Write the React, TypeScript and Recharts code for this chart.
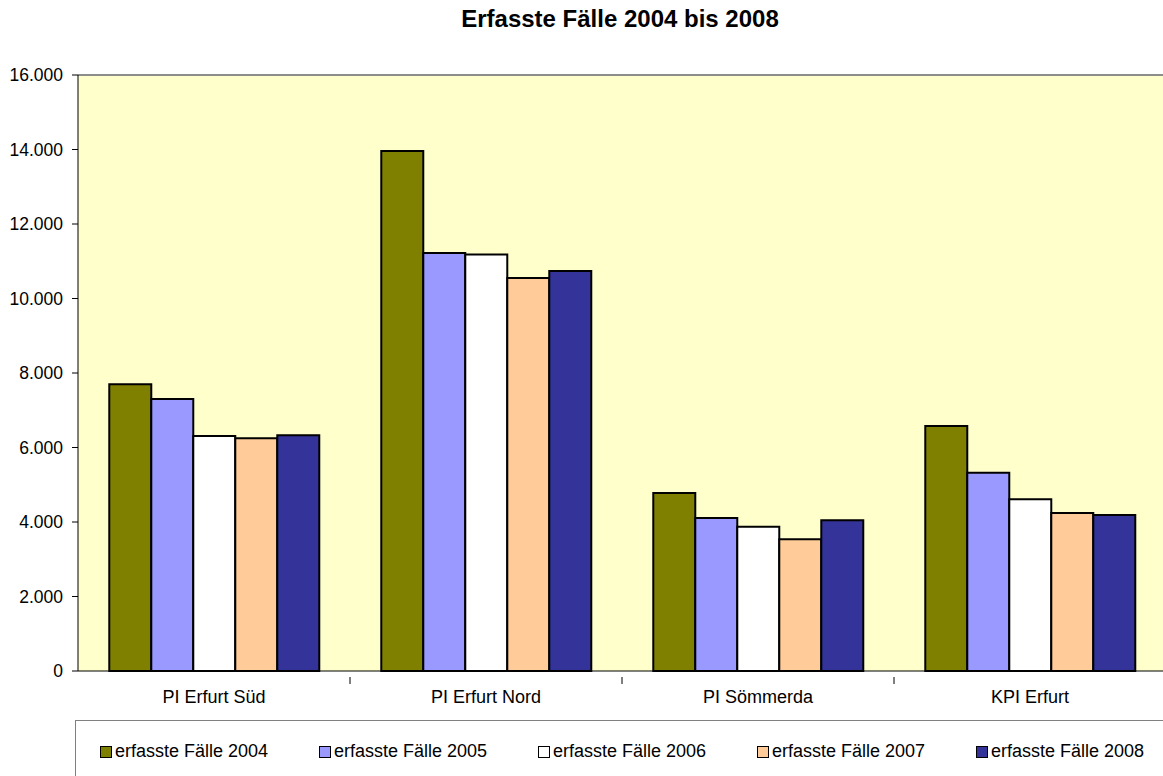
import React from 'react';
import { BarChart, Bar, XAxis, YAxis, CartesianGrid, ReferenceLine } from 'recharts';

const CATEGORIES = ['PI Erfurt Süd', 'PI Erfurt Nord', 'PI Sömmerda', 'KPI Erfurt'];
const FAELLE_2004 = [7700, 13960, 4780, 6580];
const FAELLE_2005 = [7300, 11220, 4110, 5320];
const FAELLE_2006 = [6310, 11180, 3870, 4610];
const FAELLE_2007 = [6250, 10550, 3540, 4240];
const FAELLE_2008 = [6330, 10740, 4050, 4190];
const Y_TICKS = [0, 2000, 4000, 6000, 8000, 10000, 12000, 14000, 16000];

const SERIES = [
  { key: 'y2004', name: 'erfasste Fälle 2004', color: '#808000', values: FAELLE_2004 },
  { key: 'y2005', name: 'erfasste Fälle 2005', color: '#9999FF', values: FAELLE_2005 },
  { key: 'y2006', name: 'erfasste Fälle 2006', color: '#FFFFFF', values: FAELLE_2006 },
  { key: 'y2007', name: 'erfasste Fälle 2007', color: '#FFCC99', values: FAELLE_2007 },
  { key: 'y2008', name: 'erfasste Fälle 2008', color: '#333399', values: FAELLE_2008 },
];

const data = CATEGORIES.map((cat, i) => {
  const row: Record<string, string | number> = { name: cat };
  SERIES.forEach((s) => { row[s.key] = s.values[i]; });
  return row;
});

const FONT = 'Arial, "Liberation Sans", sans-serif';
const CHART_W = 1166;
const CHART_H = 776;
const Y_AXIS_W = 78;
const BAND = (CHART_W - Y_AXIS_W) / CATEGORIES.length;

const fmt = (v: number) => String(v).replace(/\B(?=(\d{3})+(?!\d))/g, '.');

const CategoryTick = (props: any) => {
  const { x, y, payload } = props;
  return (
    <g>
      <line x1={x + BAND / 2} x2={x + BAND / 2} y1={y - 2} y2={y + 5} stroke="#000" strokeWidth={1} />
      <text x={x} y={y + 24} textAnchor="middle" fontSize={18} fontFamily={FONT} fill="#000">
        {payload.value}
      </text>
    </g>
  );
};

export default function App() {
  return (
    <div style={{ position: 'fixed', left: 0, top: 0, width: 1163, height: 776, overflow: 'hidden', background: '#fff' }}>
      <div
        style={{
          position: 'absolute', top: 5, left: 0, width: 1240, textAlign: 'center',
          fontFamily: FONT, fontWeight: 'bold', fontSize: 24, color: '#000',
        }}
      >
        Erfasste Fälle 2004 bis 2008
      </div>
      <BarChart
        width={CHART_W}
        height={CHART_H}
        data={data}
        margin={{ top: 75, right: 0, bottom: 75, left: 0 }}
        barCategoryGap="11.5%"
        barGap={0}
      >
        <CartesianGrid fill="#FFFFCC" horizontal={false} vertical={false} />
        <ReferenceLine y={16000} stroke="#8c8c8c" strokeWidth={2} />
        <XAxis
          dataKey="name"
          height={30}
          axisLine={{ stroke: '#000' }}
          tickLine={false}
          tick={<CategoryTick />}
          interval={0}
        />
        <YAxis
          width={Y_AXIS_W}
          domain={[0, 16000]}
          ticks={Y_TICKS}
          tickFormatter={fmt}
          axisLine={{ stroke: '#000' }}
          tickLine={{ stroke: '#000' }}
          tickSize={6}
          tickMargin={9}
          tick={{ fontSize: 17.5, fontFamily: FONT, fill: '#000' }}
          interval={0}
        />
        {SERIES.map((s) => (
          <Bar
            key={s.key}
            dataKey={s.key}
            name={s.name}
            fill={s.color}
            stroke="#000"
            strokeWidth={2}
            isAnimationActive={false}
          />
        ))}
      </BarChart>
      <div
        style={{
          position: 'absolute', left: 75, top: 720, width: 1200, height: 100,
          border: '1px solid #808080', boxSizing: 'border-box',
        }}
      />
      {SERIES.map((s, i) => (
        <div
          key={s.key}
          style={{
            position: 'absolute', left: 100 + i * 219, top: 741,
            display: 'flex', alignItems: 'center', fontFamily: FONT, fontSize: 18, color: '#000',
            whiteSpace: 'nowrap',
          }}
        >
          <span
            style={{
              display: 'inline-block', width: 10, height: 10, background: s.color,
              border: '1px solid #000', marginRight: 3,
            }}
          />
          {s.name}
        </div>
      ))}
    </div>
  );
}
